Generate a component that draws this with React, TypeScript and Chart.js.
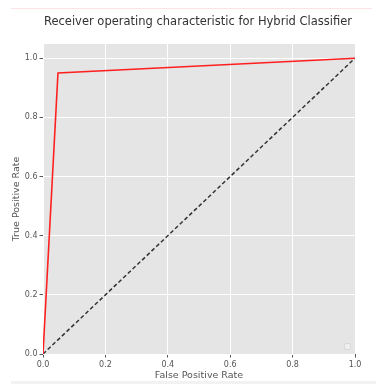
import React, { useEffect, useRef } from "react";
import { Chart, registerables } from "chart.js";

Chart.register(...registerables);

const titleText = "Receiver operating characteristic for Hybrid Classifier";
const xLabel = "False Positive Rate";
const yLabel = "True Positive Rate";
const fpr = [0, 0.048, 1];
const tpr = [0, 0.95, 1];
const chanceX = [0, 1];
const chanceY = [0, 1];
const xTicks = [0, 0.2, 0.4, 0.6, 0.8, 1.0];
const yTicks = [0, 0.2, 0.4, 0.6, 0.8, 1.0];

const FONT = "'DejaVu Sans', sans-serif";

const decoPlugin = {
  id: "deco",
  beforeDraw(chart: any) {
    const { ctx, chartArea } = chart;
    ctx.save();
    ctx.fillStyle = "#e5e5e5";
    ctx.fillRect(chartArea.left, chartArea.top, chartArea.right - chartArea.left, chartArea.bottom - chartArea.top);
    ctx.strokeStyle = "#fde3e3";
    ctx.lineWidth = 1;
    ctx.beginPath();
    ctx.moveTo(11, 8.5);
    ctx.lineTo(372, 8.5);
    ctx.stroke();
    ctx.fillStyle = "#f2f2f2";
    ctx.fillRect(11, 381, 365, 3);
    ctx.fillStyle = "#333333";
    ctx.font = `11.5px ${FONT}`;
    ctx.textAlign = "center";
    ctx.textBaseline = "middle";
    ctx.fillText(titleText, (chartArea.left + chartArea.right) / 2 - 1, 22);
    ctx.restore();
  },
  afterDatasetsDraw(chart: any) {
    const { ctx, chartArea } = chart;
    ctx.save();
    ctx.strokeStyle = "#d8d8d8";
    ctx.fillStyle = "rgba(240,240,240,0.8)";
    ctx.lineWidth = 1;
    const x = chartArea.right - 10.5;
    const y = chartArea.bottom - 10.5;
    ctx.beginPath();
    ctx.roundRect(x, y, 6, 6, 1.5);
    ctx.fill();
    ctx.stroke();
    ctx.restore();
  },
};

export default function App() {
  const ref = useRef<HTMLCanvasElement>(null);
  useEffect(() => {
    if (!ref.current) return;
    const chart = new Chart(ref.current, {
      type: "scatter",
      data: {
        datasets: [
          {
            data: fpr.map((x, i) => ({ x, y: tpr[i] })),
            showLine: true,
            borderColor: "#ff2020",
            borderWidth: 1.6,
            pointRadius: 0,
            tension: 0,
          },
          {
            data: chanceX.map((x, i) => ({ x, y: chanceY[i] })),
            showLine: true,
            borderColor: "#333333",
            borderWidth: 1.5,
            borderDash: [4, 2.5],
            pointRadius: 0,
          },
        ],
      },
      options: {
        animation: false,
        responsive: false,
        maintainAspectRatio: false,
        layout: { padding: { left: 0, right: 21, top: 44, bottom: 0 } },
        plugins: {
          legend: { display: false },
          tooltip: { enabled: false },
          title: { display: false },
        },
        scales: {
          x: {
            type: "linear",
            min: 0,
            max: 1,
            afterBuildTicks: (axis: any) => {
              axis.ticks = xTicks.map((v) => ({ value: v }));
            },
            afterFit: (axis: any) => {
              axis.height = 30;
            },
            ticks: {
              color: "#555555",
              font: { family: FONT, size: 8 },
              padding: 3,
              maxRotation: 0,
              callback: (v: any) => Number(v).toFixed(1),
            },
            grid: { color: "#ffffff", lineWidth: 1, tickColor: "#555555", tickLength: 3.5, drawOnChartArea: true },
            border: { display: false },
            title: {
              display: true,
              text: xLabel,
              color: "#555555",
              font: { family: FONT, size: 9.5 },
              padding: { top: 0, bottom: 3 },
            },
          },
          y: {
            type: "linear",
            min: 0,
            max: 1.048,
            afterBuildTicks: (axis: any) => {
              axis.ticks = yTicks.map((v) => ({ value: v }));
            },
            afterFit: (axis: any) => {
              axis.width = 43;
            },
            ticks: {
              color: "#555555",
              font: { family: FONT, size: 8 },
              padding: 2,
              callback: (v: any) => Number(v).toFixed(1),
            },
            grid: { color: "#ffffff", lineWidth: 1, tickColor: "#555555", tickLength: 3.5 },
            border: { display: false },
            title: {
              display: true,
              text: yLabel,
              color: "#555555",
              font: { family: FONT, size: 9.5 },
              padding: { top: 10.5, bottom: 0 },
            },
          },
        },
      },
      plugins: [decoPlugin],
    } as any);
    return () => chart.destroy();
  }, []);
  return (
    <div style={{ position: "fixed", left: 0, top: 0, width: 376, height: 384, background: "#fff" }}>
      <canvas ref={ref} width={376} height={384} style={{ width: 376, height: 384, display: "block" }} />
    </div>
  );
}
